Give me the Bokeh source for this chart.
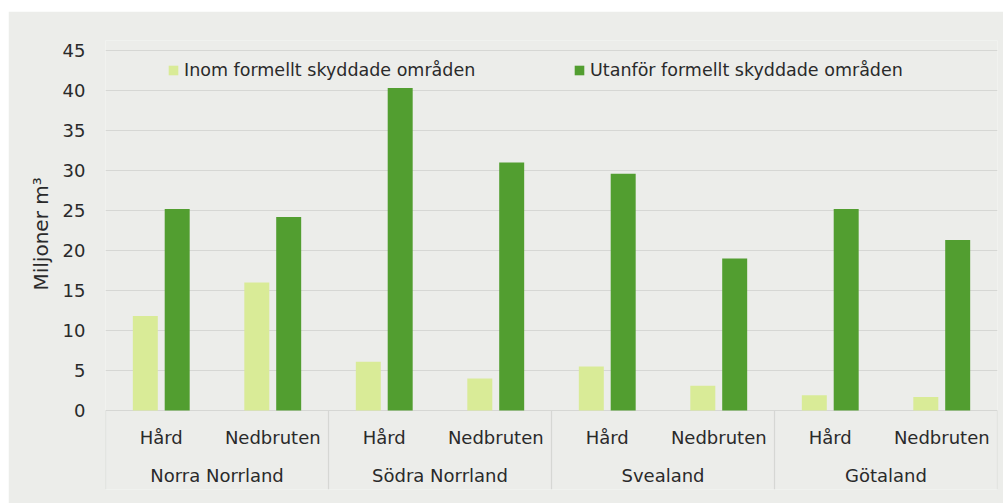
from bokeh.plotting import figure
from bokeh.models import (FactorRange, Range1d, FixedTicker, Legend, LegendItem,
                          ColumnDataSource, Title)
from bokeh.transform import dodge
from bokeh.core.properties import value
from bokeh.embed import file_html
from bokeh.resources import INLINE

# ---- data ----
regions = ["Norra Norrland", "Södra Norrland", "Svealand", "Götaland"]
types = ["Hård", "Nedbruten"]
inom = [11.8, 16.0, 6.1, 4.0, 5.5, 3.1, 1.9, 1.7]
utanfor = [25.2, 24.2, 40.3, 31.0, 29.6, 19.0, 25.2, 21.3]
y_ticks = [0, 5, 10, 15, 20, 25, 30, 35, 40, 45]
series_names = ["Inom formellt skyddade områden", "Utanför formellt skyddade områden"]
y_label = "Miljoner m³"

# ---- style ----
BG = "#ecedea"
GRID = "#d6d7d4"
LIGHT = "#d9eb97"
DARK = "#529e30"
TXT = "#2a2a2a"
FONT = "DejaVu Sans"

factors = [(r, t) for r in regions for t in types]
src = ColumnDataSource(data=dict(x=factors, inom=inom, utanfor=utanfor))

Y0, Y1 = -9.875, 46.25

p = figure(
    x_range=FactorRange(*factors, factor_padding=0, group_padding=0, range_padding=0),
    y_range=Range1d(Y0, Y1),
    width=995, height=492,
    output_backend="svg", toolbar_location=None,
    x_axis_location=None,
    min_border_left=97, min_border_right=6, min_border_top=29, min_border_bottom=14,
    background_fill_color=BG, border_fill_color=BG, outline_line_color=None,
)
p.margin = (11, 0, 0, 8)

# y axis
ax = p.yaxis[0]
ax.ticker = FixedTicker(ticks=y_ticks)
ax.axis_line_color = None
ax.major_tick_line_color = None
ax.minor_tick_line_color = None
ax.major_tick_in = 0
ax.major_tick_out = 0
ax.major_label_standoff = 20
ax.major_label_text_font = FONT
ax.major_label_text_font_size = "18px"
ax.major_label_text_color = TXT

# axis title (as a side title so it can be placed along the value area)
p.add_layout(Title(text=y_label, align="left", offset=199, standoff=14,
                   text_font=FONT, text_font_size="20px", text_font_style="normal",
                   text_color=TXT), "left")

p.ygrid.ticker = FixedTicker(ticks=y_ticks)
p.ygrid.grid_line_color = GRID
p.xgrid.visible = False

# bars
r1 = p.vbar(x=dodge("x", -0.143, range=p.x_range), top="inom", width=0.224,
            source=src, fill_color=LIGHT, line_color=None)
r2 = p.vbar(x=dodge("x", 0.143, range=p.x_range), top="utanfor", width=0.224,
            source=src, fill_color=DARK, line_color=None)

# category separators (group edges) below the zero line
sep_x = [(r, -1.0) for r in regions] + [(regions[-1], 1.0)]
p.segment(x0=sep_x, x1=sep_x, y0=[0] * len(sep_x), y1=[Y0] * len(sep_x),
          line_color=GRID, line_width=1.2)

# category labels
p.text(x=factors, y=[-3.4] * len(factors), text=[f[1] for f in factors],
       text_align="center", text_baseline="alphabetic",
       text_font=value(FONT), text_font_size="18px", text_color=TXT)
p.text(x=regions, y=[-8.15] * len(regions), text=regions,
       text_align="center", text_baseline="alphabetic",
       text_font=value(FONT), text_font_size="18px", text_color=TXT)

# legends
def make_legend(label, rend, loc):
    return Legend(items=[LegendItem(label=label, renderers=[rend])], location=loc,
                  orientation="horizontal", padding=0, margin=0, spacing=0,
                  border_line_color=None, background_fill_alpha=0,
                  glyph_width=12, glyph_height=12, label_standoff=5, label_height=20,
                  label_text_font=FONT, label_text_font_size="17.5px",
                  label_text_color=TXT)

p.add_layout(make_legend(series_names[0], r1, (62, 409)))
p.add_layout(make_legend(series_names[1], r2, (468, 409)))

open("out.html", "w").write(file_html(p, INLINE))
